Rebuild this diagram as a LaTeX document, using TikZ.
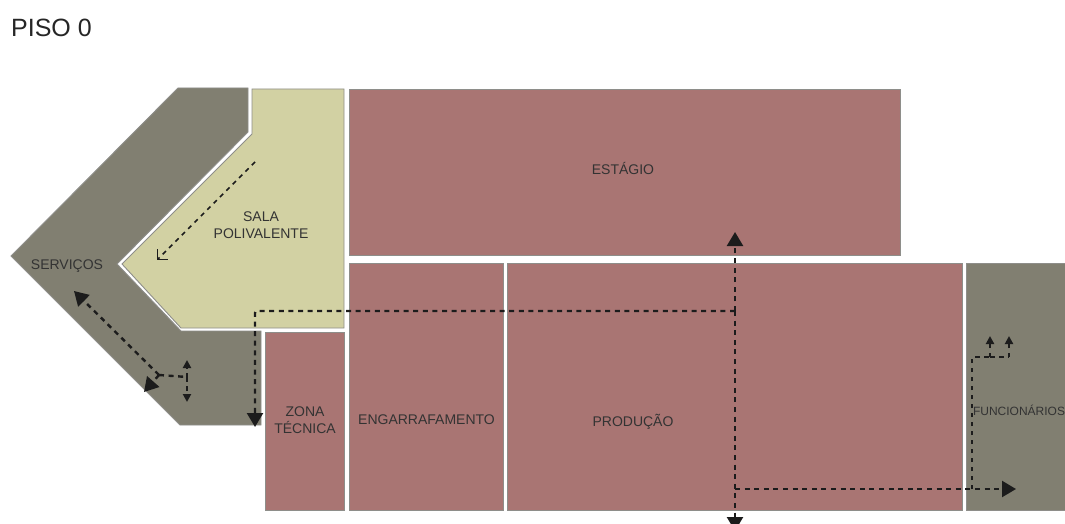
\documentclass[tikz,border=0pt]{standalone}
\usepackage{fontspec}
\setmainfont{Liberation Sans}
\usetikzlibrary{arrows.meta}
\definecolor{grayroom}{HTML}{817F71}
\definecolor{roseroom}{HTML}{A97573}
\definecolor{salaroom}{HTML}{D2D1A3}
\definecolor{roomedge}{HTML}{8E8E8A}
\definecolor{labeltext}{HTML}{333333}
\definecolor{routeink}{HTML}{1C1C1C}
\tikzset{
  room/.style={draw=roomedge,line width=0.9pt,line join=miter},
  lbl/.style={text=labeltext,font=\fontsize{14}{16.5}\selectfont,align=center,inner sep=0pt},
  route/.style={draw=routeink,line width=2.4pt,dash pattern=on 5pt off 4.6pt,rounded corners=2pt},
  thinroute/.style={draw=routeink,line width=1.7pt,dash pattern=on 4.5pt off 4.5pt},
  bigtip/.style={-{Triangle[length=14pt,width=16pt,fill=routeink]}},
  smalltip/.style={-{Triangle[length=8pt,width=8pt,fill=routeink]}}
}
\begin{document}
\begin{tikzpicture}[x=1pt,y=-1pt]
\useasboundingbox (0,0) rectangle (1065,524);
\fill[white] (0,0) rectangle (1065,524);
% rooms
\draw[room,fill=grayroom] (178,88) -- (248,88) -- (248,132) -- (117,264) -- (181,331) -- (261,331) -- (261,425) -- (180,425) -- (11,256) -- cycle;
\draw[room,fill=salaroom] (252,89) -- (344,89) -- (344,328) -- (181,328) -- (122,264) -- (252,134) -- cycle;
\draw[room,fill=roseroom] (349,89) rectangle (900,255);
\draw[room,fill=roseroom] (265,332) rectangle (344,510);
\draw[room,fill=roseroom] (349,263) rectangle (503,510);
\draw[room,fill=roseroom] (507,263) rectangle (962,510);
\draw[room,fill=grayroom] (966,263) rectangle (1066,510);
% labels
\node[anchor=west,inner sep=0pt,text=black!85,font=\fontsize{25}{28}\selectfont] (title) at (11,28) {PISO 0};
\node[lbl] (estagio) at (623,168) {ESTÁGIO};
\node[lbl] (sala) at (261,225) {SALA\\POLIVALENTE};
\node[lbl] (servicos) at (67,266) {SERVIÇOS};
\node[lbl] (zona) at (305,420) {ZONA\\TÉCNICA};
\node[lbl] (engarr) at (426.5,420) {ENGARRAFAMENTO};
\node[lbl] (producao) at (633,422) {PRODUÇÃO};
\node[lbl,font=\fontsize{12}{14}\selectfont] (func) at (1019,410) {FUNCIONÁRIOS};
% route coordinates
\coordinate (estagioUp) at (735,232);
\coordinate (exitDown) at (735,531);
\coordinate (junction) at (735,311);
\coordinate (corner) at (255,311);
\coordinate (zonaDown) at (255,427);
\coordinate (lower) at (735,489);
\coordinate (funcEnd) at (1016,489);
\coordinate (funcBase) at (972,489);
\coordinate (funcTop) at (972,357);
\coordinate (funcMid) at (990,357);
\coordinate (funcRight) at (1009,357);
\coordinate (funcA) at (990,336);
\coordinate (funcB) at (1009,336);
\coordinate (salaStart) at (255,162);
\coordinate (salaEnd) at (157,260);
\coordinate (servJoin) at (159,375);
\coordinate (servA) at (74,291);
\coordinate (servB) at (144,392);
\coordinate (servMid) at (187,377);
\coordinate (servUp) at (187,360);
\coordinate (servDown) at (187,402);
% routes
\draw[route,bigtip] (junction) -- (estagioUp);
\draw[route,bigtip] (junction) -- (exitDown);
\draw[route,bigtip] (junction) -- (corner) -- (zonaDown);
\draw[route,bigtip] (lower) -- (funcEnd);
\draw[thinroute,line width=2.2pt] (funcBase) -- (funcTop) -- (funcMid);
\draw[thinroute,line width=2.2pt] (funcMid) -- (funcRight);
\draw[thinroute,smalltip,line width=2pt] (funcMid) -- (funcA);
\draw[thinroute,smalltip,line width=2pt] (funcRight) -- (funcB);
\draw[thinroute,-{Straight Barb[length=7pt,width=14pt,line width=1.4pt]}] (salaStart) -- (salaEnd);
\draw[route,bigtip] (servJoin) -- (servA);
\draw[route,bigtip] (servJoin) -- (servB);
\draw[route] (servJoin) -- (servMid);
\draw[thinroute,smalltip,line width=2pt] (servMid) -- (servUp);
\draw[thinroute,smalltip,line width=2pt] (servMid) -- (servDown);
\end{tikzpicture}
\end{document}
